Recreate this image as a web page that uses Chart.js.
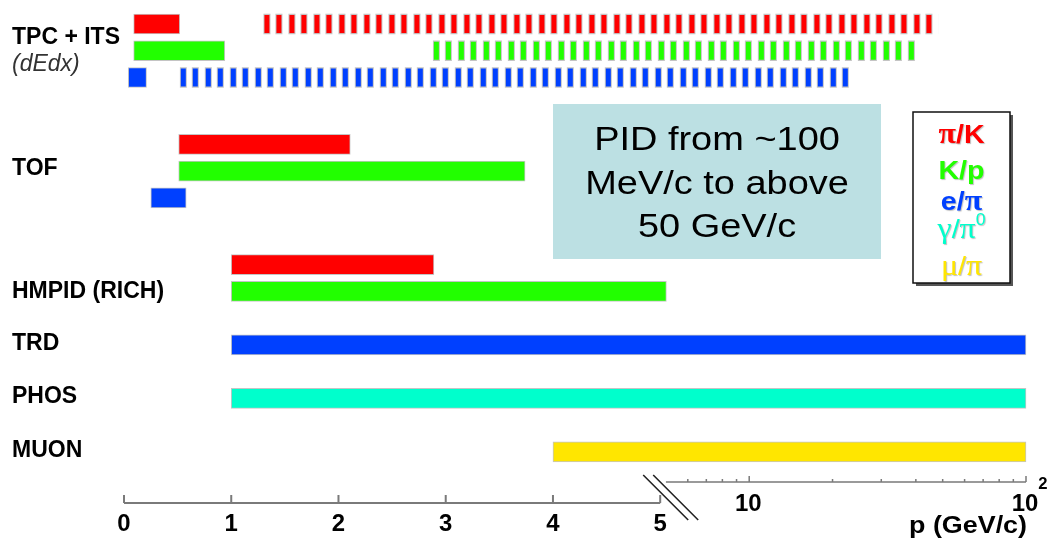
<!DOCTYPE html>
<html>
<head>
<meta charset="utf-8">
<script src="https://cdn.jsdelivr.net/npm/chart.js@4.4.1/dist/chart.umd.min.js"></script>
<style>
  html, body { margin: 0; background: #fff; }
  #wrap { width: 1056px; height: 541px; }
</style>
</head>
<body>
<div id="wrap"><canvas id="pid"></canvas></div>
<script>
// momentum coverage in GeV/c, one entry per bar: [row slot, pMin, pMax]
const piK      = [[0, 0.09, 0.52], [9, 0.51, 2.11], [18, 1.0, 2.89]];
const piKdEdx  = [[0, 1.3, 48]];
const Kp       = [[2, 0.09, 0.94], [11, 0.51, 3.74], [20, 1.0, 5.02]];
const KpdEdx   = [[2, 2.88, 40]];
const ePi      = [[4, 0.04, 0.21], [13, 0.25, 0.58], [24, 1.0, 100]];
const ePidEdx  = [[4, 0.52, 23.5]];
const gammaPi0 = [[28, 1.0, 100]];
const muPi     = [[32, 4.0, 100]];

const species = ['π/K', 'K/p', 'e/π', 'γ/π⁰', 'μ/π'];
const speciesColors = ['#ff0000', '#22ff00', '#0040ff', '#00ffcc', '#ffe600'];

const rowLabels = ['TPC + ITS', '(dEdx)', 'TOF', 'HMPID (RICH)', 'TRD', 'PHOS', 'MUON'];
const rowLabelSlots = [1, 3, 10.8, 20, 23.9, 27.9, 31.9];

const linTicks = [0, 1, 2, 3, 4, 5];
const logMinorTicks = [6, 7, 8, 9, 20, 30, 40, 50, 60, 70, 80, 90];
const logMajorTicks = [10, 100];
const logTickLabels = ['10', '10^2'];
const axisTitle = 'p (GeV/c)';
const noteLines = ['PID from ~100', 'MeV/c to above', '50 GeV/c'];

// axis is linear up to 5 GeV/c, then logarithmic up to 100
const BREAK = 5, GAP = 0.053, DECADE = 2.581;
const toAxis = v => v <= BREAK ? v : BREAK + GAP + Math.log10(v / BREAK) * DECADE;
const fromAxis = t => t <= BREAK ? t : BREAK * Math.pow(10, (t - BREAK - GAP) / DECADE);

class BrokenLinLogScale extends Chart.LinearScale {
  static id = 'brokenLinLog';
  static defaults = Chart.LinearScale.defaults;
  getPixelForValue(v) { return super.getPixelForValue(toAxis(v)); }
  getValueForPixel(p) { return fromAxis(super.getValueForPixel(p)); }
}
Chart.register(BrokenLinLogScale);

const BAR_H = 20;
const SANS = '"Liberation Sans", Arial, sans-serif';
const SERIF = '"Liberation Serif", "Times New Roman", serif';

function dashPattern(color) {
  const c = document.createElement('canvas');
  c.width = 50; c.height = BAR_H;
  const g = c.getContext('2d');
  [0, 12, 25, 37].forEach(x => {
    g.fillStyle = '#c4c4c4'; g.fillRect(x, 0, 7, BAR_H);
    g.fillStyle = color; g.fillRect(x + 1, 1, 5, BAR_H - 2);
  });
  return g.createPattern(c, 'repeat');
}

const toPoints = rows => rows.map(([y, lo, hi]) => ({ y, x: [lo, hi] }));
const solid = (rows, color) => ({ data: toPoints(rows), backgroundColor: color, borderColor: '#c4c4c4', borderWidth: 1 });
const dashed = (rows, color) => ({ data: toPoints(rows), backgroundColor: dashPattern(color), borderWidth: 0, dashed: true });

function stretchText(ctx, text, x, y, sx, align) {
  ctx.save();
  ctx.translate(x, y); ctx.scale(sx, 1);
  ctx.textAlign = align;
  ctx.fillText(text, 0, 0);
  ctx.restore();
}

// keep the dash pattern anchored on each dashed bar
const alignDash = {
  id: 'alignDash',
  beforeDatasetsDraw(chart) {
    chart.data.datasets.forEach((ds, i) => {
      if (!ds.dashed) return;
      const el = chart.getDatasetMeta(i).data[0];
      const left = Math.min(el.x, el.base), top = el.y - el.height / 2;
      ds.backgroundColor.setTransform(new DOMMatrix().translate(left, top));
    });
  }
};

const brokenAxis = {
  id: 'brokenAxis',
  afterDraw(chart) {
    const ctx = chart.ctx, xs = chart.scales.x, base = chart.chartArea.bottom, logBase = base - 21;
    const px = v => xs.getPixelForValue(v);
    ctx.save();
    ctx.strokeStyle = '#7a7a7a';
    ctx.lineWidth = 2;
    ctx.beginPath();
    ctx.moveTo(px(0), base); ctx.lineTo(px(BREAK), base);
    linTicks.forEach(v => { ctx.moveTo(px(v), base); ctx.lineTo(px(v), base - 8); });
    ctx.stroke();

    const l0 = px(BREAK * 1.0001), l1 = px(100);
    ctx.lineWidth = 1.5;
    ctx.beginPath();
    ctx.moveTo(l0, logBase); ctx.lineTo(l1, logBase);
    logMinorTicks.forEach(v => { ctx.moveTo(px(v), logBase); ctx.lineTo(px(v), logBase - 3); });
    logMajorTicks.forEach(v => { ctx.moveTo(px(v), logBase); ctx.lineTo(px(v), logBase - 6); });
    ctx.stroke();

    // axis break marks
    const p5 = px(BREAK);
    ctx.strokeStyle = '#222';
    ctx.lineWidth = 1.6;
    ctx.beginPath();
    ctx.moveTo(p5 - 17, base - 28); ctx.lineTo(p5 + 28, base + 17);
    ctx.moveTo(p5 - 7, base - 28); ctx.lineTo(p5 + 38, base + 17);
    ctx.stroke();

    ctx.fillStyle = '#000';
    ctx.textBaseline = 'middle';
    ctx.font = 'bold 23px ' + SANS;
    linTicks.forEach(v => stretchText(ctx, String(v), px(v), base + 22, 1.04, 'center'));
    logMajorTicks.forEach((v, i) => {
      const [mant, exp] = logTickLabels[i].split('^');
      ctx.font = 'bold 23px ' + SANS;
      stretchText(ctx, mant, px(v) - 1, base + 2, 1.04, 'center');
      if (exp) {
        ctx.font = 'bold 16px ' + SANS;
        stretchText(ctx, exp, px(v) + 17, base - 18, 1.04, 'center');
      }
    });
    ctx.textBaseline = 'alphabetic';
    ctx.font = 'bold 24px ' + SANS;
    stretchText(ctx, axisTitle, px(100) + 1, base + 30, 1.12, 'right');
    ctx.restore();
  }
};

const noteBox = {
  id: 'noteBox',
  afterDraw(chart) {
    const ctx = chart.ctx, a = chart.chartArea;
    const x = a.left + 429, y = a.top + 84, w = 328, h = 155;
    ctx.save();
    ctx.fillStyle = '#bce0e3';
    ctx.fillRect(x, y, w, h);
    ctx.fillStyle = '#000';
    ctx.font = '33px ' + SANS;
    noteLines.forEach((t, i) => stretchText(ctx, t, x + w / 2, y + 46 + i * 43.5, 1.15, 'center'));
    ctx.restore();
  }
};

const speciesLegend = {
  id: 'speciesLegend',
  afterDraw(chart) {
    const ctx = chart.ctx, a = chart.chartArea;
    const w = 97, h = 171, x = a.right - 16 - w, y = a.top + 92;
    ctx.save();
    ctx.fillStyle = '#555';
    ctx.fillRect(x + 3, y + 3, w, h);
    ctx.fillStyle = '#fff';
    ctx.fillRect(x, y, w, h);
    ctx.strokeStyle = '#111';
    ctx.lineWidth = 1.5;
    ctx.strokeRect(x, y, w, h);

    const SX = 1.1;
    const baselines = [31, 67, 98, 126, 163];
    species.forEach((label, i) => {
      const bold = i < 3;
      const runs = [...label].map(ch => {
        if (ch === '⁰') return { t: '0', font: '16px ' + SANS, dy: -13 };
        if (/[α-ω]/.test(ch)) return { t: ch, font: (bold ? 'bold ' : '') + '29px ' + SERIF, dy: 0 };
        return { t: ch, font: (bold ? 'bold ' : '') + '26px ' + SANS, dy: 0 };
      });
      let total = 0;
      runs.forEach(r => { ctx.font = r.font; r.w = ctx.measureText(r.t).width * SX; total += r.w; });
      let cx = x + w / 2 - total / 2;
      ctx.fillStyle = speciesColors[i];
      ctx.shadowColor = 'rgba(0,0,0,0.25)';
      ctx.shadowOffsetX = 1; ctx.shadowOffsetY = 1; ctx.shadowBlur = 1;
      runs.forEach(r => {
        ctx.font = r.font;
        stretchText(ctx, r.t, cx, y + baselines[i] + r.dy, SX, 'left');
        cx += r.w;
      });
    });
    ctx.restore();
  }
};

const common = { barThickness: BAR_H, grouped: false, borderSkipped: false, clip: false };
const datasets = [
  solid(piK, speciesColors[0]), dashed(piKdEdx, speciesColors[0]),
  solid(Kp, speciesColors[1]), dashed(KpdEdx, speciesColors[1]),
  solid(ePi, speciesColors[2]), dashed(ePidEdx, speciesColors[2]),
  solid(gammaPi0, speciesColors[3]),
  solid(muPi, speciesColors[4]),
].map(d => Object.assign(d, common));

// row slot s sits at 24 + 13.37*s px from the top of the canvas
const SLOT = 13.37;

new Chart(document.getElementById('pid'), {
  type: 'bar',
  data: { datasets },
  options: {
    indexAxis: 'y',
    responsive: true,
    maintainAspectRatio: false,
    animation: false,
    layout: { padding: { left: 12, right: 30, top: 20, bottom: 0 } },
    plugins: { legend: { display: false }, tooltip: { enabled: false } },
    scales: {
      x: {
        type: 'brokenLinLog',
        min: 0, max: toAxis(100),
        ticks: { display: false },
        grid: { display: false },
        border: { display: false },
        afterFit: s => { s.height = 38; },
      },
      y: {
        type: 'linear',
        reverse: true,
        offset: false,
        min: (20 - 24) / SLOT,
        max: (503 - 24) / SLOT,
        grid: { display: false, offset: false },
        border: { display: false },
        afterBuildTicks: s => { s.ticks = rowLabelSlots.map(value => ({ value })); },
        afterFit: s => { s.width = 112; },
        ticks: {
          autoSkip: false,
          mirror: true,
          padding: -112,
          crossAlign: 'near',
          callback: (v, i) => rowLabels[i],
          color: c => c.index === 1 ? '#333' : '#000',
          font: c => c.index === 1
            ? { family: SANS, size: 23, style: 'italic', weight: 'normal' }
            : { family: SANS, size: 23, weight: 'bold' },
        },
      },
    },
  },
  plugins: [alignDash, brokenAxis, noteBox, speciesLegend],
});
</script>
</body>
</html>
